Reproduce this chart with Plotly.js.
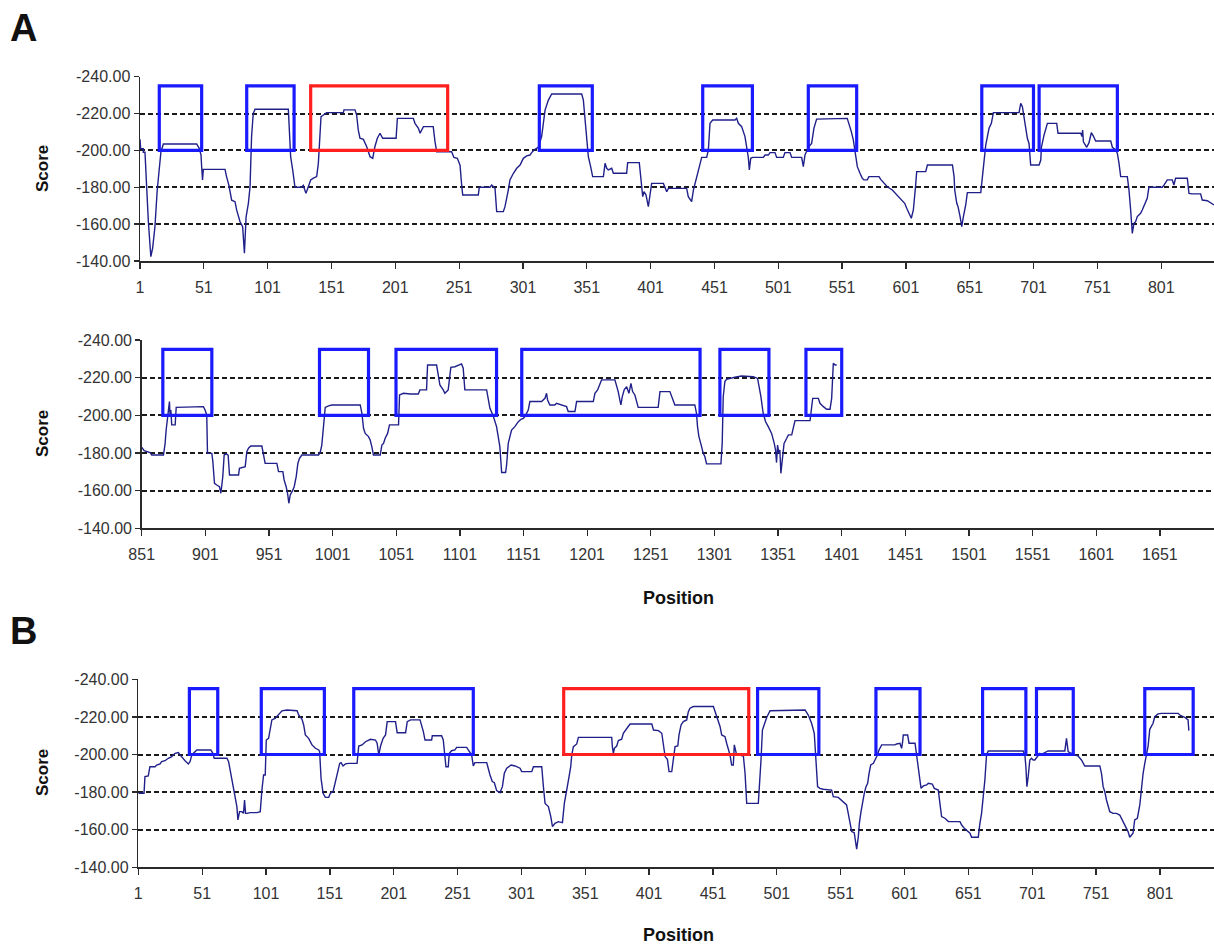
<!DOCTYPE html>
<html>
<head>
<meta charset="utf-8">
<script src="https://cdn.plot.ly/plotly-3.0.1.min.js"></script>
<style>html,body{margin:0;padding:0;background:#fff}#chart{width:1214px;height:944px}</style>
</head>
<body>
<div id="chart"></div>
<script>
// ---------- DATA ----------
// Panel A, positions 1-850
const posA1 = [1,1.5,3.6,3.6,4.9,6.2,7.5,8.9,9.5,10.9,12.7,14.5,16.1,17.4,19.3,45.4,47.5,48.8,49.3,50,50.6,67.6,68.8,70.6,72.8,75.4,76.7,79.3,81.4,82.8,84.1,85.9,87.2,88.4,89.7,91.1,117.2,118,119,120.6,122.4,127.6,128.9,131,132.8,134.7,136.8,139.4,140.7,142,142.8,144.7,147.2,160.3,160.8,169.4,170.7,172,173.3,176,178.6,181.2,183.3,185,186.9,189,191.1,201.6,202.6,215.1,216.4,219.1,220.4,223,230.7,232.1,233.4,245.1,246.9,249.6,251.7,253,253.8,266,266.8,275.2,276.5,279.1,280.4,285.6,286.9,289.5,290.8,293.5,296.1,298.7,301.3,303.9,306.5,307.8,310.4,313,315.6,318.3,320.9,323.5,347,348.3,349.6,350.9,352.2,354,355.6,364,365.3,366.6,367.9,370.5,371.8,382.2,383,392.1,392.7,394,394.8,395.8,397.4,399.2,400.5,401.8,411,412.3,413.6,414.9,429.2,430.5,433.1,434.5,435.8,437.6,439.2,441,444.9,446.2,447.5,449.6,467.1,468.4,469.7,472.3,474.9,476.2,477.5,478.3,479.4,480.9,489.3,490.6,493.2,494.5,498.4,499.7,504.9,506.2,510.2,511.5,519.3,520.6,521.9,524.5,527.1,528.9,531,555,556.4,558.2,559.8,560.8,561.6,562.9,565,566.8,568.1,570.7,572,579.9,581.2,583.8,586.4,590.3,592.9,595.5,598.2,600,601.6,603.4,605.2,606.8,607.8,608.6,609.4,616.5,617.8,637.4,638.7,639.2,640.8,641.8,643.4,644.7,646,647.8,649.1,659.6,660.9,662.2,663.5,664.8,666.1,667.9,669.5,689.6,690.9,692.2,693,694,694.8,696.1,697.4,698.7,705.3,706.6,707.1,709.2,711.8,719.1,720.1,737.9,738.9,739.4,740,741,742.6,744.4,746.2,747.8,749.6,761.4,762.7,765.3,766.6,767.9,769.2,774.4,775.7,777,778.3,779.6,780.9,782.2,784.8,786.1,787.4,788.7,790,791.3,801.8,803.1,805.7,809.6,810.9,812.2,821.4,822.7,825.3,831.8,833.1,837.1,839.7,842.3];
const scoreA1 = [-206,-201,-201,-199,-199,-177.6,-162,-148,-142.4,-147,-158.6,-178.5,-189.4,-199.3,-203.5,-203.5,-201,-197.5,-191,-184,-189.7,-189.7,-185.8,-181.2,-173,-172.2,-167.7,-161.4,-158.6,-144.2,-164,-171.3,-180.3,-207.5,-220,-222.3,-222.3,-207.5,-196.6,-189.4,-180,-180,-181,-176.7,-180.3,-184,-185,-185.8,-193,-207.5,-218.3,-219.2,-220.5,-220.5,-222,-222,-219.2,-211,-206.6,-206,-202,-196.6,-195.7,-202,-206.6,-209.3,-206.6,-206.6,-217.4,-217.4,-214.7,-212,-209.3,-212.9,-212.9,-204.7,-199.3,-199.3,-196.2,-195.7,-192,-181,-175.8,-175.8,-180,-180,-181.2,-179.4,-166.8,-166.8,-169.5,-178.5,-184,-187.6,-190.3,-192.1,-195.7,-197,-197.5,-198.8,-200.6,-201.7,-207.5,-221.9,-227.3,-230.6,-230.6,-227.3,-216.5,-203.8,-196.6,-191.2,-185.8,-185.8,-193,-190.3,-189.4,-190.3,-187.6,-187.6,-193.4,-193.4,-189.4,-179.4,-174.9,-177.6,-175.8,-169.5,-175.8,-182.1,-182.1,-179.4,-177.6,-179.4,-179.4,-174.9,-172.2,-178.5,-182.1,-185.8,-191.2,-196.2,-196.2,-200.2,-214.7,-216.5,-216.5,-217.4,-214.7,-212.9,-207.5,-202,-196.2,-189.4,-195.7,-196.2,-196.2,-197.5,-197.5,-198.8,-198.8,-196.2,-196.2,-198.8,-198.8,-196.2,-196.2,-191.2,-197.5,-201.7,-203.8,-212,-217,-217.4,-214.7,-210.2,-205.6,-200.2,-195.7,-191.2,-187.6,-184.9,-184,-184,-185.8,-185.8,-184.3,-182.1,-180.3,-178.5,-176.7,-174.9,-173.1,-171.3,-168.6,-165.9,-163.2,-167.7,-174,-181.2,-188.5,-188.5,-192.1,-192.1,-185.8,-178.5,-171.3,-169.5,-164.1,-158.6,-164.1,-170.4,-177.1,-177.1,-185.8,-196.6,-202.9,-207.5,-212,-214.7,-220.5,-220.5,-225.5,-223.7,-220.5,-214.7,-212,-206.6,-203.8,-192.1,-192.1,-194.8,-201.7,-208.4,-214.7,-214.7,-209.3,-209.3,-207.5,-211.1,-204.7,-203.8,-201.7,-204.2,-209.6,-207.8,-205.1,-205.1,-201.7,-200.2,-198.4,-193,-185.8,-185.8,-178.5,-167.7,-155,-160.4,-161.3,-164.1,-165.9,-167.7,-169.5,-171.3,-174,-180,-180,-181.2,-184,-184,-181.2,-184.9,-184.9,-176.7,-176.4,-176.4,-173.1,-172.7,-171.3,-170.4];

// Panel A, positions 851-1700
const posA2 = [851.1,852.9,857.6,858.9,868.1,869.4,870.2,871.2,872,872.8,873.3,873.9,874.6,877.3,878.1,899.5,900.8,902.1,902.7,906.1,906.9,908.2,910,912.1,913.2,914.7,915.8,917.4,918.9,920,927.1,927.8,932.3,933.6,934.9,936.7,945.4,946.7,948,957.2,958.5,961.9,962.9,964.5,965.6,966.6,967.7,969.8,970.8,972.4,973.7,975,976.8,989.9,991.2,992.5,993.3,994.4,995.2,997.8,1000.4,1022.7,1024,1025.3,1026.6,1029.2,1030.5,1031.8,1033.1,1038.4,1039.7,1041,1042.3,1044.2,1045.7,1052.8,1053.6,1056.7,1062,1068.3,1069.6,1074.8,1075.6,1082.7,1084,1085.3,1087.9,1089.2,1091.8,1093.9,1097.1,1099.7,1102.3,1103.6,1104.9,1122,1123.3,1124.6,1127.2,1129.8,1131.1,1132.4,1133.8,1136.9,1137.7,1139,1140.3,1141.6,1144.2,1146.9,1149,1150.8,1152.1,1154.7,1156,1165.2,1167.8,1169.1,1169.9,1171.7,1175.6,1176.9,1184.8,1186.1,1191.4,1192.7,1205.8,1207.1,1209.2,1211,1212.3,1222.8,1224.1,1225.4,1226.7,1227.5,1228.6,1230.1,1232,1233.8,1235.4,1236.7,1238.5,1239.8,1241.1,1256.8,1258.2,1266,1267.3,1269.9,1285.6,1286.9,1287.7,1288.8,1290.9,1292.2,1293.5,1294.8,1306.1,1307.1,1307.9,1309.2,1310.5,1313.1,1317.1,1322.3,1327.5,1331.5,1334.9,1335.9,1337.5,1339.3,1341.2,1343.3,1345.9,1348,1349,1349.8,1350.6,1351.6,1352.4,1353.2,1354.3,1355.7,1357.8,1359.1,1361.7,1363,1364.3,1376.1,1377.4,1378.2,1382.6,1383.9,1386.6,1389.2,1391.8,1393.1,1393.9,1394.4,1395.8,1397.1];
const scoreA2 = [-183,-181.2,-180.2,-178.9,-178.9,-185.1,-192.2,-197.5,-202.8,-207.3,-199.3,-202.8,-194.9,-194.9,-204.2,-204.6,-202.8,-200.2,-179.8,-179.8,-175.4,-163.9,-163,-162.1,-158.6,-167.4,-178.9,-179.5,-178.9,-168.3,-168.3,-171.9,-172.7,-180.7,-182.5,-183.7,-183.7,-178,-174.5,-174.5,-170.1,-170.1,-165.7,-162.1,-158.6,-153.3,-157.7,-160.4,-162.1,-167.4,-174.5,-177.2,-178.9,-178.9,-180.2,-184.2,-190.4,-201.1,-204.2,-205,-205.5,-205.5,-201.1,-193.1,-190.4,-188.7,-186.9,-183.4,-178.9,-178.9,-184.2,-185.1,-187.8,-190.4,-194.9,-194.9,-210.8,-211.7,-211.3,-211.3,-213.5,-213.5,-226.7,-226.7,-220.5,-216.1,-213.5,-211.7,-213.5,-225.5,-225.8,-226.7,-227.3,-225,-213.5,-213.5,-207.3,-203.7,-199.6,-194,-188.7,-183.4,-169.6,-169.6,-173.6,-185.1,-188.7,-192.2,-194,-196.6,-197.9,-198.4,-199.3,-202.8,-207.3,-207.3,-209,-211.7,-208.1,-205.5,-205.5,-206.4,-204.6,-202,-202,-207.3,-207.3,-211.7,-213.5,-216.6,-218.8,-218.8,-216.1,-212.6,-208.1,-205.5,-209.9,-213.5,-215.2,-211.7,-217,-212.6,-210.8,-208.1,-204.2,-204.2,-212.6,-212.6,-209.9,-205.5,-205.5,-201.1,-194,-188.7,-183.4,-179.8,-178,-174.2,-174.2,-185.1,-209.9,-217.9,-219.1,-219.6,-220.2,-220.9,-220.9,-220.5,-219.6,-216.1,-209.9,-201.1,-196.6,-194,-190.4,-185.1,-181.6,-174.9,-184.2,-179.8,-181.6,-169.2,-178,-185.1,-187.8,-189.6,-189.6,-194,-197.2,-197.2,-204.6,-209,-209,-206.4,-204.6,-203.2,-203.2,-209,-220.5,-227.6,-226.7,-226.7];

// Panel B, positions 1-830
const posB = [1,5.5,6.2,8.8,10.1,14.1,15.4,18,19.3,21.9,24.5,27.2,29.8,32.4,33.7,36.3,37.6,40.2,41.5,42.9,44.2,46.8,57.8,59.4,60.4,70.4,71.7,73,74.3,75.6,76.9,78.2,79,80.3,82.1,83.4,84.2,85,86,88.6,93.9,96.5,97.8,99.1,100.4,101.2,103,104.3,105.6,108.3,110.9,113.5,117.4,125.3,126.6,129.2,130.5,131.8,134.4,137,139.7,142.3,143,144.1,145.7,147.5,150.1,151.4,153.5,155.3,157.2,158.7,159.8,161.3,163.2,165.8,172.3,173.6,176.2,178.9,182.8,186.7,188,189.3,190.7,192.7,194.6,195.9,202.4,203.7,210.3,211.6,214.2,221.6,222.9,224.2,225.5,230.7,231.2,238.5,239.8,241.1,241.9,243.7,244.5,246.3,248.9,250.3,258.1,259.4,262,263.3,264.6,273.8,275.1,276.4,278.2,279.8,281.6,284.2,286.1,287.6,289.5,292.9,296,299.9,301.2,309.1,310.4,316.9,318.2,319.5,322.1,324,325.3,327.3,329.9,333.1,334.6,335.9,337.2,338.3,339.6,340.4,341.7,344.3,345.6,371.7,372.2,373,373.8,375.6,376.9,379.5,380.8,382.1,384.2,386.1,403.1,404.4,408.3,410.9,412.2,413.5,415.3,416.6,418.7,420,421.3,423.4,424.4,426,427.8,430.4,431.7,433,435.6,451.3,452.6,453.9,455.2,456.5,457.8,460.4,461.7,463,464.3,465.6,466.9,467.7,468.8,469.5,470.8,474.8,476.1,477.4,486.5,487.8,488.6,489.7,491.2,493.1,495.7,523.1,525.6,528.2,530.3,531.4,532.9,534.7,537.3,543.9,545.2,549.1,551.7,553.8,555.6,556.9,558.2,559.6,561.6,562.7,563.5,564.8,565.6,566.9,567.9,569.5,570.8,572.1,573.2,574.5,576.6,577.9,579.2,581,583.1,593.5,594.8,597.4,598.7,599.5,600,603.4,604.5,609.2,610.5,611.8,613.1,613.9,615.7,618.3,619.6,622.7,624.3,627.4,628.7,630,632.6,635.3,644.4,645.7,647.8,649.6,652.2,653.5,658.7,660,661.3,662.6,663.9,665.2,666.5,693.9,695.2,696,696.8,697.8,699.1,700.4,701.7,703,705.6,706.9,708.2,710.8,713.4,726.5,727.8,728.6,729.1,730.4,734.3,736.9,739.5,742.1,753.9,755.2,756.5,757.8,759.1,760.4,761.7,764.3,766.9,769.5,772.1,774.7,776,777.3,778.6,779.9,781.2,783.3,785.2,786.5,787.8,789.1,790.4,791.7,793,794.3,795.6,796.9,799.5,802.2,815.2,816.5,820.4,823,823.6];
const scoreB = [-179.4,-179.4,-188.2,-188.6,-193.5,-193.5,-194.4,-195,-196.2,-196.7,-198,-198.9,-200.6,-201,-199.8,-197.4,-196.7,-195,-196.2,-199.8,-200.6,-202.4,-202.4,-200.6,-198,-198,-196.2,-191.8,-186.5,-181.1,-177.6,-172.3,-165.2,-169.6,-169.6,-168.7,-175.8,-168.7,-168.7,-169.1,-169.1,-169.6,-181.1,-189.1,-189.1,-207.7,-208.6,-213.9,-218.4,-219.3,-221,-223.2,-223.7,-223.3,-221,-218.7,-215.7,-210.4,-208.6,-205.1,-203.3,-202.4,-201.5,-187.3,-179.4,-177.2,-177.2,-179.4,-180.2,-184.7,-190.9,-195.3,-195.7,-193.9,-195,-195.3,-195.3,-204.5,-205.1,-206.8,-208.1,-207.7,-206,-199.8,-204.5,-208.6,-210.4,-217.5,-217.5,-211.6,-211.6,-217.5,-218.4,-218.4,-215.7,-212.2,-207.7,-207.7,-210,-210,-207.7,-200.6,-193.5,-193.5,-200.6,-202,-202.4,-203.8,-203.8,-202.4,-199.8,-193.9,-195.7,-195.7,-191.8,-189.1,-185.6,-185,-180.8,-179.7,-182.9,-190,-192.7,-194.4,-193.9,-192.7,-190.9,-190.9,-193.5,-193.5,-182.9,-174,-172.3,-167,-161.6,-163.4,-164.3,-163.8,-174,-178.5,-182.9,-188.2,-193.5,-199.8,-204.2,-205.6,-209.1,-209.1,-204.2,-200.6,-203.3,-204.5,-207.4,-208.1,-211.3,-212.7,-214.5,-216.2,-216.2,-213,-212.7,-211.3,-204.2,-198.9,-197.4,-190.9,-190.9,-197.1,-204.2,-204.5,-210.4,-215.7,-217.5,-218.4,-222.8,-224.6,-225.5,-225.5,-222.8,-221,-218.4,-214.9,-210.4,-209.5,-206,-203.3,-199.8,-194.4,-194.4,-205.1,-202.4,-199.8,-199.8,-199.2,-190,-174,-174,-186.5,-197.1,-213,-215.7,-219.8,-223.3,-223.7,-221,-216.6,-211.3,-200.6,-182.9,-182,-181.5,-181.1,-177.6,-177.2,-175.5,-174,-173.2,-168.7,-164.3,-159,-158.4,-154.5,-149.6,-156.3,-163.4,-169.6,-174,-179.4,-182.9,-184.7,-190,-194.4,-195.3,-197.1,-198.9,-202.4,-205.1,-205.1,-205.6,-206,-203.3,-206.8,-210.4,-210.4,-206,-206,-199.8,-192.7,-186.5,-182,-183.3,-183.8,-184.7,-184.3,-182,-181.1,-174,-167,-166.1,-164.3,-164.3,-162.5,-160.7,-159.5,-158.1,-156,-156,-163.4,-168.7,-177.6,-186.5,-199.8,-201.9,-201.9,-199.8,-193.5,-182.9,-188.2,-197.1,-198,-197.1,-197.1,-199.8,-200.6,-200.1,-201,-201.9,-201.9,-208.6,-204.2,-201.5,-201,-199.8,-199.2,-197.1,-193.9,-193.9,-190,-182.9,-180.2,-175.8,-173.2,-169.6,-168.7,-168.7,-167.8,-164.3,-161.6,-159,-156,-157.2,-158.1,-165.2,-166.1,-173.2,-182,-190,-195.3,-200.6,-204.5,-213.4,-214.8,-216.6,-220.1,-221.6,-221.9,-221.9,-221,-219.8,-218.4,-212.7];

// Highlighted regions (start, end), and which one is the red (selected) region
const boxA1Start = [16.1, 84.6, 134.7, 313.8, 441.8, 524.5, 660.4, 705.3];
const boxA1End   = [49.3, 121.7, 242, 355.3, 480.7, 562.4, 700.9, 766.6];
const boxA1Red   = [0, 0, 1, 0, 0, 0, 0, 0];
const boxA2Start = [867.6, 990.7, 1050.8, 1149.6, 1305.3, 1372.9];
const boxA2End   = [906.1, 1029.2, 1129.8, 1289.7, 1343.8, 1401];
const boxA2Red   = [0, 0, 0, 0, 0, 0];
const boxBStart  = [41, 97.3, 169.7, 334.1, 485.9, 578.6, 662.1, 704.3, 789.1];
const boxBEnd    = [63.2, 146.7, 263.3, 479, 533.9, 613.1, 696, 733.1, 827];
const boxBRed    = [0, 0, 0, 1, 0, 0, 0, 0, 0];
const boxLow = -200, boxHigh = -235;

const ticksA1 = [1,51,101,151,201,251,301,351,401,451,501,551,601,651,701,751,801];
const ticksA2 = [851,901,951,1001,1051,1101,1151,1201,1251,1301,1351,1401,1451,1501,1551,1601,1651];
const ticksB  = [1,51,101,151,201,251,301,351,401,451,501,551,601,651,701,751,801];
const yTickVals = [-240,-220,-200,-180,-160,-140];
const yTickText = ['-240.00','-220.00','-200.00','-180.00','-160.00','-140.00'];

// ---------- LAYOUT ----------
const W = 1214, H = 944;
const FONT = 'Liberation Sans, Arial, Helvetica, sans-serif';
const py = v => 1 - v / H;
const dark = '#2a2a2a';

function xAxis(range, ticks, anchor, left) {
  return {
    domain: [left / W, 1], range: range, anchor: anchor,
    tickvals: ticks, ticktext: ticks.map(String),
    ticks: 'outside', ticklen: 6, tickwidth: 1.3, tickcolor: dark,
    showline: true, linecolor: dark, linewidth: 1.5,
    showgrid: false, zeroline: false, ticklabelstandoff: 5,
    tickfont: {family: FONT, size: 16, color: '#333'}
  };
}
function yAxis(top, bottom, anchor) {
  return {
    domain: [py(bottom), py(top)], range: [-140, -240], anchor: anchor,
    tickvals: yTickVals, ticktext: yTickText,
    ticks: 'outside', ticklen: 5, tickwidth: 1.3, tickcolor: dark,
    showline: true, linecolor: dark, linewidth: 1.5,
    showgrid: true, gridcolor: '#1a1a1a', gridwidth: 2, griddash: '5px,3px',
    zeroline: false,
    tickfont: {family: FONT, size: 16, color: '#333'}
  };
}
// inner half of the "cross" tick marks on the value axes
function yInner(top, bottom, over, anchor) {
  return {
    domain: [py(bottom), py(top)], range: [-140, -240], overlaying: over, anchor: anchor,
    tickvals: yTickVals, ticks: 'inside', ticklen: 5, tickwidth: 1.3, tickcolor: dark,
    showticklabels: false, showgrid: false, showline: false, zeroline: false
  };
}

const lineStyle = {color: '#20208a', width: 1.4};
const traces = [
  {x: posA1, y: scoreA1, xaxis: 'x', yaxis: 'y', mode: 'lines', line: lineStyle, hoverinfo: 'skip'},
  {x: posA2, y: scoreA2, xaxis: 'x2', yaxis: 'y2', mode: 'lines', line: lineStyle, hoverinfo: 'skip'},
  {x: posB, y: scoreB, xaxis: 'x3', yaxis: 'y3', mode: 'lines', line: lineStyle, hoverinfo: 'skip'}
];

function boxes(starts, ends, reds, xr, yr) {
  return starts.map((s, i) => ({
    type: 'rect', xref: xr, yref: yr, x0: s, x1: ends[i], y0: boxLow, y1: boxHigh,
    line: {color: reds[i] ? '#ff1f1f' : '#1a1aff', width: 3.2},
    fillcolor: 'rgba(0,0,0,0)', layer: 'above'
  }));
}
const shapes = [].concat(
  boxes(boxA1Start, boxA1End, boxA1Red, 'x', 'y'),
  boxes(boxA2Start, boxA2End, boxA2Red, 'x2', 'y2'),
  boxes(boxBStart, boxBEnd, boxBRed, 'x3', 'y3')
);

function ann(text, x, y, size, angle) {
  return {text: text, xref: 'paper', yref: 'paper', x: x / W, y: py(y),
    xanchor: 'center', yanchor: 'middle', showarrow: false, textangle: angle || 0,
    font: {family: FONT, size: size, color: '#111', weight: 'bold'}};
}
const annotations = [
  ann('<b>A</b>', 24, 28, 38),
  ann('<b>B</b>', 24, 631, 38),
  ann('<b>Score</b>', 42, 169, 17, -90),
  ann('<b>Score</b>', 42, 434, 17, -90),
  ann('<b>Score</b>', 42, 773, 17, -90),
  ann('<b>Position</b>', 678, 598, 18),
  ann('<b>Position</b>', 678, 935, 18)
];

const layout = {
  width: W, height: H, margin: {l: 0, r: 0, t: 0, b: 0},
  paper_bgcolor: '#fff', plot_bgcolor: '#fff', showlegend: false,
  xaxis: xAxis([1, 842.3], ticksA1, 'y', 140),
  yaxis: yAxis(76.7, 261, 'x'),
  xaxis2: xAxis([851, 1693.5], ticksA2, 'y2', 141.7),
  yaxis2: yAxis(340, 528.3, 'x2'),
  xaxis3: xAxis([1, 843.3], ticksB, 'y3', 138.3),
  yaxis3: yAxis(679.3, 867.3, 'x3'),
  yaxis4: yInner(76.7, 261, 'y', 'x'),
  yaxis5: yInner(340, 528.3, 'y2', 'x2'),
  yaxis6: yInner(679.3, 867.3, 'y3', 'x3'),
  shapes: shapes, annotations: annotations
};

Plotly.newPlot('chart', traces, layout, {staticPlot: true, displayModeBar: false});
</script>
</body>
</html>
